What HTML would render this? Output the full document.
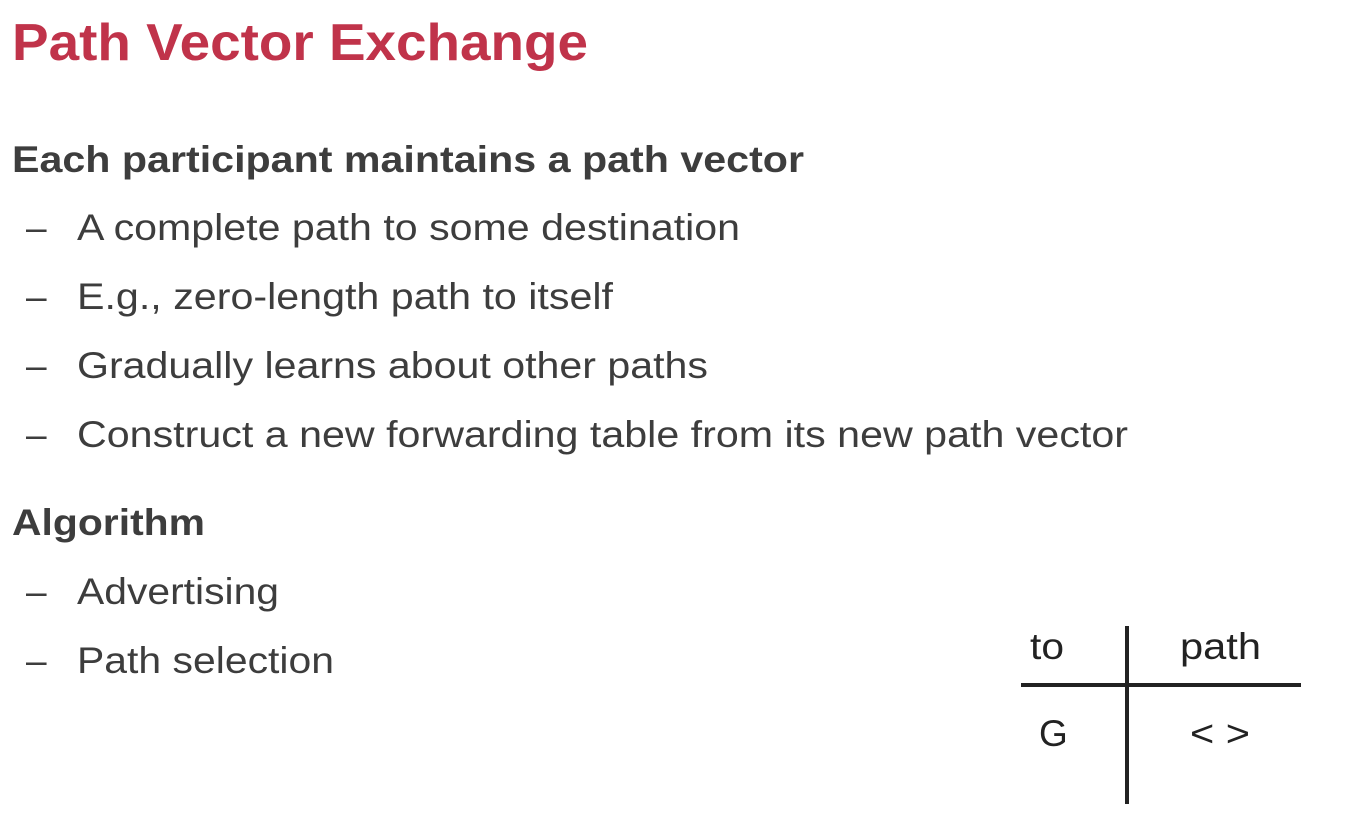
<!DOCTYPE html>
<html><head><meta charset="utf-8"><style>
html,body{margin:0;padding:0;background:#fff;width:1348px;height:829px;overflow:hidden}
svg{display:block}
</style></head><body>
<svg width="1348" height="829" xmlns="http://www.w3.org/2000/svg" font-family="'Liberation Sans', Arial, sans-serif">
<text x="12" y="60" font-size="52" font-weight="bold" fill="#c0334a" textLength="576" lengthAdjust="spacingAndGlyphs">Path Vector Exchange</text>
<g fill="#3d3d3d" font-size="37">
<text x="12" y="172" font-weight="bold" textLength="792" lengthAdjust="spacingAndGlyphs">Each participant maintains a path vector</text>
<text x="26" y="240">–</text><text x="77" y="240" textLength="663" lengthAdjust="spacingAndGlyphs">A complete path to some destination</text>
<text x="26" y="309">–</text><text x="77" y="309" textLength="536" lengthAdjust="spacingAndGlyphs">E.g., zero-length path to itself</text>
<text x="26" y="378">–</text><text x="77" y="378" textLength="631" lengthAdjust="spacingAndGlyphs">Gradually learns about other paths</text>
<text x="26" y="447">–</text><text x="77" y="447" textLength="1051" lengthAdjust="spacingAndGlyphs">Construct a new forwarding table from its new path vector</text>
<text x="12" y="535" font-weight="bold" textLength="193" lengthAdjust="spacingAndGlyphs">Algorithm</text>
<text x="26" y="604">–</text><text x="77" y="604" textLength="202" lengthAdjust="spacingAndGlyphs">Advertising</text>
<text x="26" y="673">–</text><text x="77" y="673" textLength="257" lengthAdjust="spacingAndGlyphs">Path selection</text>
</g>
<g stroke="#222" stroke-width="4">
<line x1="1127" y1="626" x2="1127" y2="804"/>
<line x1="1021" y1="685" x2="1301" y2="685"/>
</g>
<g fill="#222" font-size="37">
<text x="1030" y="659" textLength="34" lengthAdjust="spacingAndGlyphs">to</text>
<text x="1180" y="659" textLength="81" lengthAdjust="spacingAndGlyphs">path</text>
<text x="1039" y="746">G</text>
<text x="1190" y="746" textLength="60" lengthAdjust="spacingAndGlyphs">&lt; &gt;</text>
</g>
</svg>
</body></html>
